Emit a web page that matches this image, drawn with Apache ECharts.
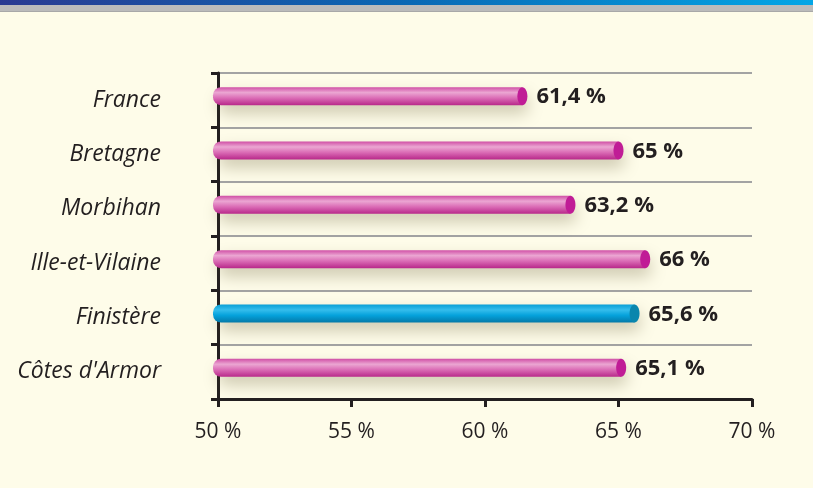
<!DOCTYPE html>
<html>
<head>
<meta charset="utf-8">
<script src="https://cdn.jsdelivr.net/npm/echarts@6/dist/echarts.min.js"></script>
<style>
  html, body { margin: 0; padding: 0; background: #fefce9; }
  #chart { width: 813px; height: 488px; }
</style>
</head>
<body>
<div id="chart"></div>
<script>
// données
const categories = ['France', 'Bretagne', 'Morbihan', 'Ille-et-Vilaine', 'Finistère', "Côtes d'Armor"];
const values = [61.4, 65, 63.2, 66, 65.6, 65.1];
const xTicks = [50, 55, 60, 65, 70];
const highlighted = 'Finistère';

const chart = echarts.init(document.getElementById('chart'));

// couleurs des barres (cylindres)
const pinkBody = new echarts.graphic.LinearGradient(0, 0, 0, 1, [
  { offset: 0, color: '#d04fa6' },
  { offset: 0.3, color: '#eba6d2' },
  { offset: 0.6, color: '#db6db6' },
  { offset: 1, color: '#b8288a' }
]);
const blueBody = new echarts.graphic.LinearGradient(0, 0, 0, 1, [
  { offset: 0, color: '#0a9fd6' },
  { offset: 0.3, color: '#35bdec' },
  { offset: 0.6, color: '#05a2dc' },
  { offset: 1, color: '#0479a8' }
]);

const fmt = v => String(v).replace('.', ',') + ' %';

function renderBar(params, api) {
  const idx = api.value(2);
  const start = api.coord([xTicks[0], api.value(1)]);
  const end = api.coord([api.value(0), api.value(1)]);
  const h = 18;
  const cy = end[1] - 4;
  const isHi = categories[idx] === highlighted;
  const x0 = start[0] - 5;
  return {
    type: 'group',
    children: [
      {
        type: 'rect',
        shape: { x: x0, y: cy - h / 2, width: end[0] - x0, height: h, r: [8, 0, 0, 8] },
        style: {
          fill: isHi ? blueBody : pinkBody,
          shadowBlur: 16,
          shadowOffsetX: 5,
          shadowOffsetY: 8,
          shadowColor: 'rgba(90,80,40,0.3)'
        }
      },
      {
        type: 'ellipse',
        shape: { cx: end[0], cy: cy, rx: 5, ry: h / 2 },
        style: { fill: isHi ? '#0a86ad' : '#c01c96' }
      },
      {
        type: 'text',
        style: {
          x: end[0] + 14,
          y: cy + 1,
          text: fmt(api.value(0)),
          fill: '#231f20',
          font: 'bold 22px "Open Sans", sans-serif',
          verticalAlign: 'middle',
          align: 'left'
        }
      }
    ]
  };
}

chart.setOption({
  backgroundColor: '#fefce9',
  animation: false,
  graphic: [
    {
      type: 'rect',
      shape: { x: 0, y: 0, width: 813, height: 5 },
      style: {
        fill: new echarts.graphic.LinearGradient(0, 0, 1, 0, [
          { offset: 0, color: '#2a3a92' },
          { offset: 0.5, color: '#0a68b4' },
          { offset: 1, color: '#03a6e6' }
        ])
      }
    },
    {
      type: 'rect',
      shape: { x: 0, y: 5, width: 813, height: 7 },
      style: { fill: '#bbbbbb' }
    },
    {
      type: 'rect',
      shape: { x: 0, y: 11, width: 813, height: 1 },
      style: { fill: '#a8a8a8' }
    }
  ],
  grid: { left: 218, right: 61, top: 73, bottom: 89 },
  xAxis: {
    type: 'value',
    min: xTicks[0],
    max: xTicks[xTicks.length - 1],
    interval: 5,
    axisLine: { show: true, lineStyle: { color: '#231f20', width: 3 } },
    axisTick: { show: true, length: 8, lineStyle: { color: '#231f20', width: 3 } },
    splitLine: { show: false },
    axisLabel: {
      margin: 23,
      color: '#231f20',
      fontSize: 21,
      fontFamily: '"Open Sans", sans-serif',
      formatter: v => v + ' %'
    }
  },
  yAxis: {
    type: 'category',
    data: categories,
    inverse: true,
    axisLine: { show: true, lineStyle: { color: '#231f20', width: 3 } },
    axisTick: { show: true, length: 7, lineStyle: { color: '#231f20', width: 3 } },
    splitLine: { show: true, lineStyle: { color: '#a3a3a3', width: 2 } },
    axisLabel: {
      margin: 57,
      color: '#231f20',
      fontSize: 23,
      fontStyle: 'italic',
      fontFamily: '"Open Sans", sans-serif',
      verticalAlign: 'middle',
      lineHeight: 23,
      padding: [0, 0, 7, 0]
    }
  },
  series: [
    {
      type: 'custom',
      renderItem: renderBar,
      encode: { x: 0, y: 1 },
      data: values.map((v, i) => [v, i, i]),
      clip: false,
      z: 5
    }
  ]
});
</script>
</body>
</html>
